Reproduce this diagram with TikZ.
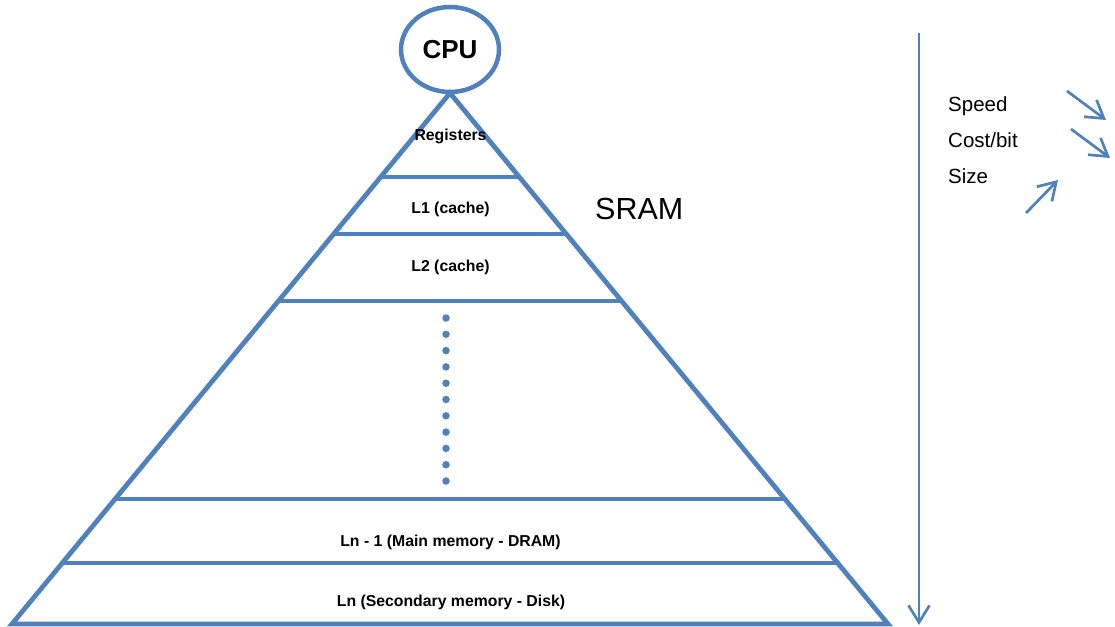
\documentclass[tikz,border=0pt]{standalone}
\usepackage{fontspec}
\setmainfont{Liberation Sans}
\usetikzlibrary{calc,arrows.meta,shapes.geometric}
\definecolor{tierblue}{RGB}{79,129,189}
\begin{document}
\begin{tikzpicture}[x=1pt,y=-1pt,
  edge/.style={draw=tierblue,line width=4.8pt,line join=miter},
  tier/.style={draw=tierblue,line width=4.5pt},
  lbl/.style={font=\bfseries\fontsize{15.8}{18}\selectfont,anchor=base,inner sep=0pt},
  side/.style={font=\fontsize{20.5}{24}\selectfont,anchor=base west,inner sep=0pt},
  barb/.style={-{Straight Barb[length=17pt,width=21pt,line width=2.7pt]}},
  trend/.style={draw=tierblue,line width=2.7pt,barb},
  dot/.style={circle,fill=tierblue,inner sep=0pt,minimum size=7.5pt}]
  \useasboundingbox (0,0) rectangle (1115,626);

  % pyramid outline
  \coordinate (apex) at (450,93);
  \coordinate (bl) at (12,624);
  \coordinate (br) at (888,624);
  \draw[edge] (bl) -- (apex) -- (br) -- cycle;

  % level separators
  \foreach \name/\yy in {sa/177,sb/234,sc/301,sd/499,se/563}{
    \coordinate (\name-l) at ($(apex)!{(\yy-93)/531}!(bl)$);
    \coordinate (\name-r) at ($(apex)!{(\yy-93)/531}!(br)$);
    \draw[tier] (\name-l) -- (\name-r);
  }

  % processor on top
  \node[ellipse,draw=tierblue,line width=4.5pt,fill=white,minimum width=98pt,minimum height=85pt,inner sep=0pt,
        font=\bfseries\fontsize{26}{30}\selectfont] (cpu) at (450,49.5) {CPU};

  % level labels
  \node[lbl] (reg) at (450.5,140) {Registers};
  \node[lbl] (l1) at (450.5,213) {L1 (cache)};
  \node[lbl] (l2) at (450.5,271) {L2 (cache)};
  \node[lbl] (lnm) at (450.5,546) {Ln - 1 (Main memory - DRAM)};
  \node[lbl] (ln) at (451,606) {Ln (Secondary memory - Disk)};
  \node[font=\fontsize{30.5}{34}\selectfont,anchor=base west,inner sep=0pt] (sram) at (595,219) {SRAM};

  % intermediate levels
  \foreach \i in {0,...,10}{
    \node[dot] (d\i) at (446,{318+16.3*\i}) {};
  }

  % direction of the hierarchy
  \coordinate (vtop) at (919,33);
  \coordinate (vbot) at (919,625);
  \draw[draw=tierblue,line width=2.7pt,barb] (vtop) -- (vbot);

  % trends
  \node[side] (speed) at (948,111) {Speed};
  \node[side] (cost) at (948,147) {Cost/bit};
  \node[side] (size) at (948,183) {Size};
  \coordinate (s0) at (1067,91);  \coordinate (s1) at (1106,120);
  \coordinate (c0) at (1071,129); \coordinate (c1) at (1110,158);
  \coordinate (z0) at (1026,213); \coordinate (z1) at (1058,180);
  \draw[trend] (s0) -- (s1);
  \draw[trend] (c0) -- (c1);
  \draw[trend] (z0) -- (z1);
\end{tikzpicture}
\end{document}
